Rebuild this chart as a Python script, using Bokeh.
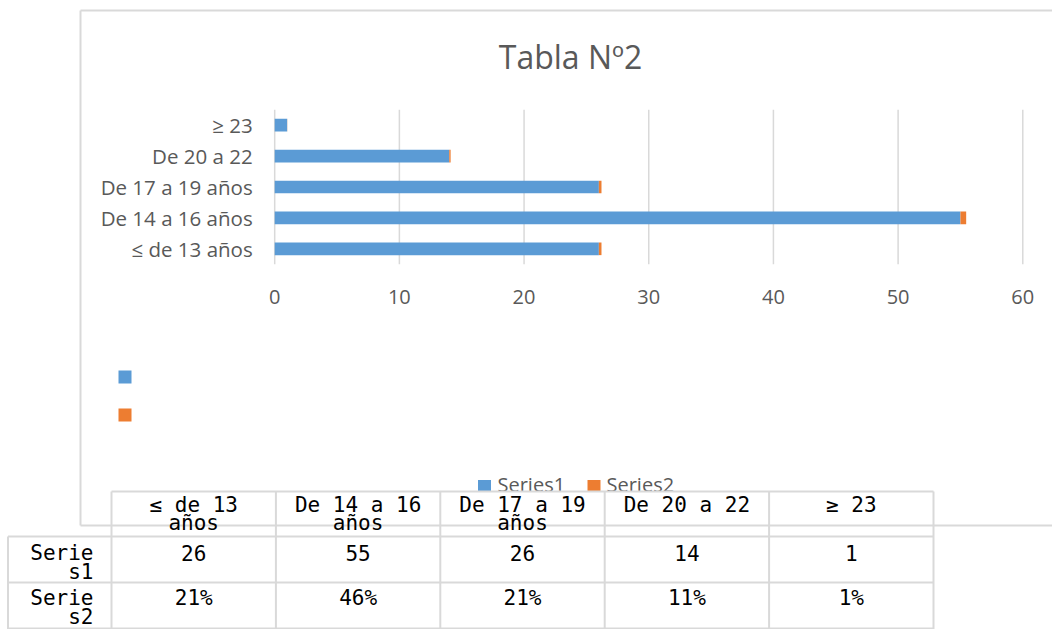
import textwrap
from bokeh.plotting import figure
from bokeh.models import Range1d, FixedTicker
from bokeh.core.properties import value
from bokeh.embed import file_html
from bokeh.resources import INLINE

# ---------------- data ----------------
categories = ["≤ de 13 años", "De 14 a 16 años", "De 17 a 19 años", "De 20 a 22", "≥ 23"]
series1 = [26, 55, 26, 14, 1]
series2 = [0.21, 0.46, 0.21, 0.11, 0.01]
series_names = ["Series1", "Series2"]
x_ticks = [0, 10, 20, 30, 40, 50, 60]
title_text = "Tabla Nº2"

# ---------------- styles ----------------
BLUE = "#5b9bd5"
ORANGE = "#ed7d31"
GRID = "#d9d9d9"
TXT = "#595959"
SANS = "Open Sans"
MONO = "DejaVu Sans Mono"

W, H = 1052, 629
PAGE = 0  # bokeh's page template has no body margin
X0_PAGE, PX_PER_UNIT = 274.2, 12.468      # page x of value 0, px per unit
CAT0_PAGE, PX_PER_CAT = 248.3, 30.9       # page y of first category, px per category

x_range = Range1d((PAGE - X0_PAGE) / PX_PER_UNIT, (PAGE + W - X0_PAGE) / PX_PER_UNIT)
y_range = Range1d((CAT0_PAGE - (PAGE + H)) / PX_PER_CAT, (CAT0_PAGE - PAGE) / PX_PER_CAT)

p = figure(width=W, height=H, x_range=x_range, y_range=y_range,
           output_backend="svg", toolbar_location=None, tools="", min_border=0)
p.extra_x_ranges = {"px": Range1d(PAGE, PAGE + W)}
p.extra_y_ranges = {"px": Range1d(PAGE + H, PAGE)}
p.outline_line_color = None
p.grid.visible = False
p.background_fill_color = "white"
p.border_fill_color = "white"

PX = dict(x_range_name="px", y_range_name="px")

# title
p.text(x=[570], y=[55.5], text=[title_text], text_align="center", text_baseline="middle",
       text_font=value(SANS), text_font_size=value("32px"), text_color=TXT, **PX)

# gridlines (through data scale)
n = len(categories)
p.segment(x0=x_ticks, x1=x_ticks, y0=[-0.5] * len(x_ticks), y1=[n - 0.5] * len(x_ticks),
          line_color=GRID, line_width=1.5)

# bars
ks = list(range(n))
tops = [a + b for a, b in zip(series1, series2)]
p.hbar(y=ks, left=0, right=series1, height=0.41, fill_color=BLUE, line_color=None)
p.hbar(y=ks, left=series1, right=tops, height=0.41, fill_color=ORANGE, line_color=None)

# axes drawn inside the frame
xa = p.xaxis[0]
xa.ticker = FixedTicker(ticks=x_ticks)
xa.fixed_location = -0.5
xa.axis_line_color = None
xa.major_tick_line_color = None
xa.minor_tick_line_color = None
xa.major_label_text_font = SANS
xa.major_label_text_font_size = "20px"
xa.major_label_text_color = TXT
xa.major_label_standoff = 20

ya = p.yaxis[0]
ya.ticker = FixedTicker(ticks=ks)
ya.major_label_overrides = {k: c for k, c in zip(ks, categories)}
ya.fixed_location = 0
ya.axis_line_color = None
ya.major_tick_line_color = None
ya.minor_tick_line_color = None
ya.major_label_text_font = SANS
ya.major_label_text_font_size = "20.5px"
ya.major_label_text_color = TXT
ya.major_label_standoff = 16

# stray legend markers on the left
colors = [BLUE, ORANGE]
p.rect(x=[124.5, 124.5], y=[376.5, 414.5], width=13, height=13,
       fill_color=colors, line_color=None, **PX)

# bottom legend (partly hidden by table)
p.rect(x=[484, 593.5], y=[486, 486], width=13, height=13, fill_color=colors, line_color=None, **PX)
p.text(x=[497, 606], y=[484, 484], text=series_names, text_align="left", text_baseline="middle",
       text_font=value(SANS), text_font_size=value("20px"), text_color=TXT, **PX)

# ---------------- data table ----------------
col_edges = [111 + i * 164.4 for i in range(n + 1)]
row_y = [491, 536, 582, 628]
left_edge = 7.5

# table cells are opaque: they hide the bottom of the legend
p.quad(left=[col_edges[0]], right=[col_edges[-1]], top=[491], bottom=[640],
       fill_color="white", line_color=None, **PX)

# chart area border
p.segment(x0=[80, 80, 80], y0=[10, 10, 525], x1=[80, PAGE + W, PAGE + W], y1=[525, 10, 525],
          line_color=GRID, line_width=2, **PX)

hx0 = [col_edges[0], left_edge, left_edge, left_edge]
hx1 = [col_edges[-1]] * 4
p.segment(x0=hx0, x1=hx1, y0=row_y, y1=row_y, line_color=GRID, line_width=2, **PX)
vx = [left_edge] + col_edges
vy0 = [536] + [491] * len(col_edges)
p.segment(x0=vx, x1=vx, y0=vy0, y1=[640] * len(vx), line_color=GRID, line_width=2, **PX)

centers = [(col_edges[i] + col_edges[i + 1]) / 2 for i in range(n)]
tx, ty, tt = [], [], []
for c, cat in zip(centers, categories):
    for j, line in enumerate(textwrap.wrap(cat, 10)):
        tx.append(c); ty.append(504 + 18 * j); tt.append(line)
for c, v in zip(centers, series1):
    tx.append(c); ty.append(552); tt.append(str(v))
for c, v in zip(centers, series2):
    tx.append(c); ty.append(597.5); tt.append(f"{v * 100:.0f}%")
p.text(x=tx, y=ty, text=tt, text_align="center", text_baseline="middle",
       text_font=value(MONO), text_font_size=value("21px"), text_color="black", **PX)

lx, ly, lt = [], [], []
for r, name in enumerate(series_names):
    for j, line in enumerate(textwrap.wrap(name, 5)):
        lx.append(93); ly.append(552 + 45.5 * r + 19 * j); lt.append(line)
p.text(x=lx, y=ly, text=lt, text_align="right", text_baseline="middle",
       text_font=value(MONO), text_font_size=value("21px"), text_color="black", **PX)

open("out.html", "w").write(file_html(p, INLINE))
